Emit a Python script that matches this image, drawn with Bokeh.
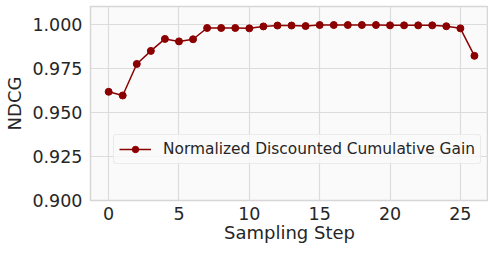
from bokeh.plotting import figure
from bokeh.models import FixedTicker, NumeralTickFormatter, Range1d, Legend, LegendItem
from bokeh.embed import file_html
from bokeh.resources import INLINE

steps = list(range(27))
ndcg = [0.9617, 0.9596, 0.9775, 0.9849, 0.9917, 0.9903, 0.9915, 0.9979, 0.9979,
        0.9979, 0.9977, 0.9988, 0.9993, 0.9993, 0.9990, 0.9996, 0.9996, 0.9996,
        0.9996, 0.9996, 0.9994, 0.9994, 0.9994, 0.9994, 0.9989, 0.9977, 0.9821]
x_ticks = [0, 5, 10, 15, 20, 25]
y_ticks = [0.900, 0.925, 0.950, 0.975, 1.000]
series_name = "Normalized Discounted Cumulative Gain"

p = figure(width=488, height=246, output_backend="svg", toolbar_location=None,
           x_range=Range1d(-1.29, 27.0), y_range=Range1d(0.9, 1.0101))
p.min_border_left = 90
p.min_border_right = 0
p.min_border_top = 6
p.min_border_bottom = 46
p.background_fill_color = "#fafafa"
p.border_fill_color = "white"
p.outline_line_color = "#d6d6d6"
p.outline_line_width = 1.5

line_color = "#8b0000"
r1 = p.line(steps, ndcg, line_color=line_color, line_width=1.5)
r2 = p.scatter(steps, ndcg, size=7, fill_color=line_color, line_color=line_color)

for ax in (p.xaxis, p.yaxis):
    ax.axis_line_color = None
    ax.major_tick_line_color = None
    ax.minor_tick_line_color = None
    ax.major_tick_out = 0
    ax.major_tick_in = 0
    ax.minor_tick_out = 0
    ax.minor_tick_in = 0
    ax.major_label_text_font = "DejaVu Sans"
    ax.major_label_text_font_size = "17.5px"
    ax.major_label_text_color = "#262626"
    ax.axis_label_text_font = "DejaVu Sans"
    ax.axis_label_text_font_size = "18px"
    ax.axis_label_text_font_style = "normal"
    ax.axis_label_text_color = "#262626"

p.xaxis.ticker = FixedTicker(ticks=x_ticks)
p.yaxis.ticker = FixedTicker(ticks=y_ticks)
p.yaxis.formatter = NumeralTickFormatter(format="0.000")
p.xaxis.axis_label = "Sampling Step"
p.yaxis.axis_label = "NDCG"
p.xaxis.major_label_standoff = 6
p.yaxis.major_label_standoff = 8
p.xaxis.axis_label_standoff = -1
p.yaxis.axis_label_standoff = 4

p.xgrid.grid_line_color = "#dcdcdc"
p.ygrid.grid_line_color = "#dcdcdc"
p.xgrid.grid_line_width = 1.2
p.ygrid.grid_line_width = 1.2

legend = Legend(items=[LegendItem(label=series_name, renderers=[r1, r2])],
                location=(23, 36))
legend.label_text_font = "DejaVu Sans"
legend.label_text_font_size = "15.4px"
legend.label_text_color = "#262626"
legend.background_fill_color = "#fafafa"
legend.background_fill_alpha = 0.8
legend.border_line_color = "#dcdcdc"
legend.border_radius = 3
legend.glyph_width = 32
legend.glyph_height = 16
legend.label_height = 16
legend.label_standoff = 12
legend.padding = 5
legend.margin = 0
p.add_layout(legend)

open("out.html", "w").write(file_html(p, INLINE))
